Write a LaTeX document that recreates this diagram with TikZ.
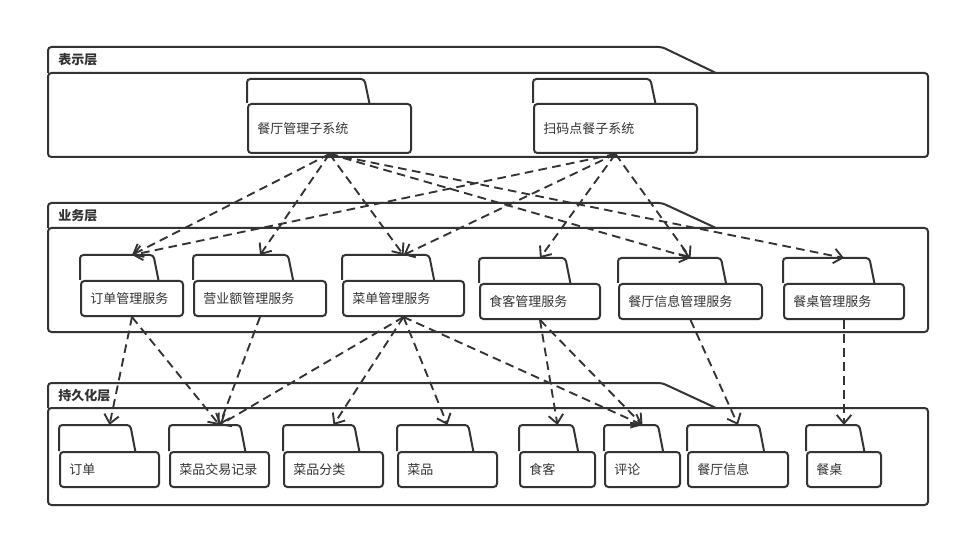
\documentclass[tikz,border=0pt]{standalone}
\usepackage{fontspec}
\setmainfont{Noto Sans CJK SC}
\usepackage{tikz}
\usetikzlibrary{arrows.meta, positioning}
\definecolor{umlline}{HTML}{333333}
\tikzset{
  pkgline/.style={draw=umlline, line width=1.5pt},
  pkgbody/.style={pkgline, rounded corners=2.5pt, inner sep=0pt},
  pkgtext/.style={font=\fontsize{9.75}{11}\selectfont, text=umlline, inner sep=0pt},
  layertext/.style={font=\fontsize{9.75}{11}\selectfont\bfseries, text=umlline, inner sep=0pt},
  dep/.style={draw=umlline, line width=1.4pt, dash pattern=on 6.5pt off 4pt, -{Straight Barb[length=6.5pt,width=11pt]}},
}
% name, left, right, tab top, body top, bottom, label
\newcommand{\umlpkg}[7]{%
  \pgfmathsetmacro\tabr{#2+0.72*(#3-#2)}
  \node[pkgbody, anchor=north west, minimum width={(#3-#2)*0.75pt}, minimum height={(#6-#5)*0.75pt}] (#1) at (#2,#5) {};
  \node[pkgtext, right=7.5pt of #1.west] (#1-l) {#7};
  \draw[pkgline, rounded corners=2.5pt] (#2,#5) -- (#2,#4) -- (\tabr,#4) -- (\tabr+5,#5);
  \path (#1.north) ++(0,#4-#5) coordinate (#1-t);
}
\begin{document}
\begin{tikzpicture}[x=0.75pt, y=-0.75pt]
    \useasboundingbox (0,0) rectangle (960,538);
    \foreach \n/\t/\b/\e/\lab in {show/47/73/157/表示层, biz/203/228/332/业务层, data/383/408/505/持久化层} {
        \draw[pkgbody] (48,\b) rectangle (928,\e);
        \draw[pkgline, rounded corners=2.5pt] (48,\b) -- (48,\t) -- (662,\t) -- (716,\b);
        \node[layertext, anchor=west] (\n) at (58,{(\t+\b)/2}) {\lab};
    }
    \umlpkg{sysA}{247}{410}{79}{103}{152}{餐厅管理子系统}
    \umlpkg{sysB}{533}{696}{79}{103}{152}{扫码点餐子系统}
    \foreach \n/\l/\r/\lab in {svcOrder/80/182/订单管理服务, svcSales/193/325/营业额管理服务, svcMenu/342/463/菜单管理服务} {
        \umlpkg{\n}{\l}{\r}{255}{280}{315}{\lab}
    }
    \foreach \n/\l/\r/\lab in {svcDiner/479/599/食客管理服务, svcInfo/618/761/餐厅信息管理服务, svcTable/783/903/餐桌管理服务} {
        \umlpkg{\n}{\l}{\r}{258}{283}{318}{\lab}
    }
    \foreach \n/\l/\r/\lab in {datOrder/59/158/订单, datTrade/169/268/菜品交易记录, datCat/283/382/菜品分类, datDish/397/496/菜品, datDiner/519/594/食客, datReview/604/679/评论, datInfo/687/787/餐厅信息, datTable/806/880/餐桌} {
        \umlpkg{\n}{\l}{\r}{425}{451}{486}{\lab}
    }
    \foreach \a/\b in {sysA/svcOrder, sysA/svcSales, sysA/svcMenu, sysA/svcInfo, sysA/svcTable,
                      sysB/svcOrder, sysB/svcMenu, sysB/svcDiner, sysB/svcInfo,
                      svcOrder/datOrder, svcOrder/datTrade, svcSales/datTrade,
                      svcMenu/datTrade, svcMenu/datCat, svcMenu/datDish, svcMenu/datReview,
                      svcDiner/datDiner, svcDiner/datReview, svcInfo/datInfo, svcTable/datTable} {
        \draw[dep] (\a.south) -- (\b-t);
    }
\end{tikzpicture}
\end{document}
